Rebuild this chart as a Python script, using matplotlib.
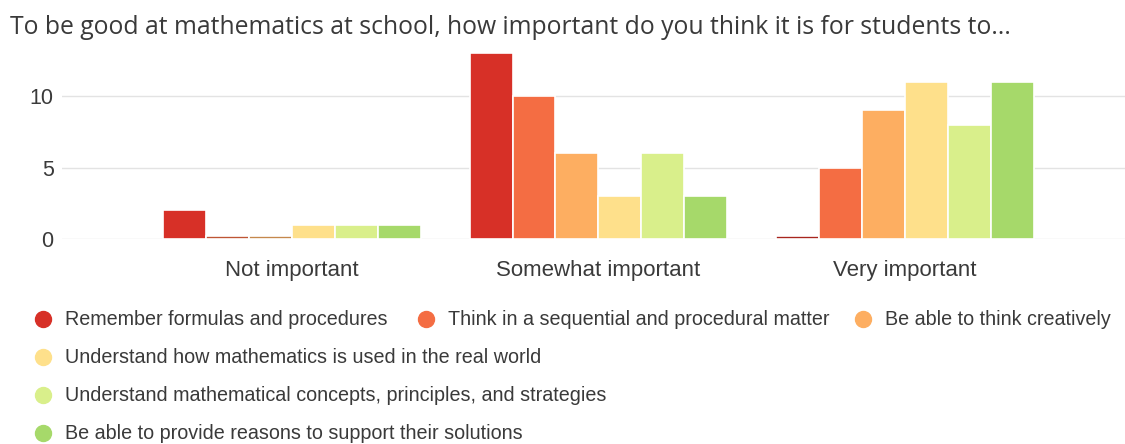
import matplotlib.pyplot as plt
import matplotlib.colors as mcolors
from matplotlib.lines import Line2D
import numpy as np

categories = ["Not important", "Somewhat important", "Very important"]
series = [
    "Remember formulas and procedures",
    "Think in a sequential and procedural matter",
    "Be able to think creatively",
    "Understand how mathematics is used in the real world",
    "Understand mathematical concepts, principles, and strategies",
    "Be able to provide reasons to support their solutions",
]
counts = [
    [2, 13, 0],
    [0, 10, 5],
    [0, 6, 9],
    [1, 3, 11],
    [1, 6, 8],
    [1, 3, 11],
]
colors = ["#d73027", "#f46d43", "#fdae61", "#fee08b", "#d9ef8b", "#a6d96a"]
title = "To be good at mathematics at school, how important do you think it is for students to..."

plt.rcParams["font.family"] = ["Liberation Sans", "DejaVu Sans"]
text_color = "#3a3a3a"

fig = plt.figure(figsize=(11.25, 4.44), dpi=100)
W, H = 1125, 444

# plot area in pixels: left 62, right 1125, baseline 239, top 46
ymax = 13.5
ax = fig.add_axes([62 / W, 1 - 239 / H, (1125 - 62) / W, (239 - 46) / H])

x = np.arange(len(categories))
bw = 0.14
for i, (name, vals, col) in enumerate(zip(series, counts, colors)):
    pos = x + (i - 2.5) * bw
    vals = np.array(vals, dtype=float)
    ax.bar(pos, vals, width=bw, color=col, edgecolor="white", linewidth=1.2, zorder=3)
    # zero counts shown as a thin darker stub
    zero = vals == 0
    if zero.any():
        dark = tuple(c * 0.78 for c in mcolors.to_rgb(col))
        ax.bar(pos[zero], 0.22, width=bw, color=dark, edgecolor="white",
               linewidth=1.2, zorder=3)

ax.set_xlim(-0.750, 2.718)
ax.set_ylim(0, ymax)
ax.set_yticks([0, 5, 10])
ax.grid(axis="y", color="#e3e3e3", linewidth=1, zorder=0)
for s in ax.spines.values():
    s.set_visible(False)
ax.set_xticks(x)
ax.set_xticklabels(categories)
ax.tick_params(axis="x", length=0, pad=15, labelsize=16, labelcolor=text_color)
ax.tick_params(axis="y", length=0, pad=6, labelsize=15.5, labelcolor=text_color)

fig.text(10 / W, 1 - 28 / H, title, fontsize=17.8, color=text_color,
         family=["Open Sans", "DejaVu Sans"], va="center", ha="left")

# legend laid out in rows like the source chart
legend_slots = [(43, 319), (426, 319), (863, 319), (43, 357), (43, 395), (43, 433)]
for (px, py), name, col in zip(legend_slots, series, colors):
    fig.add_artist(Line2D([px / W], [1 - py / H], marker="o", markersize=11.5,
                          color=col, linestyle="none", transform=fig.transFigure))
    fig.text((px + 22) / W, 1 - py / H, name, fontsize=14.2, color=text_color,
             va="center", ha="left")

fig.savefig("out.png", dpi=100)
